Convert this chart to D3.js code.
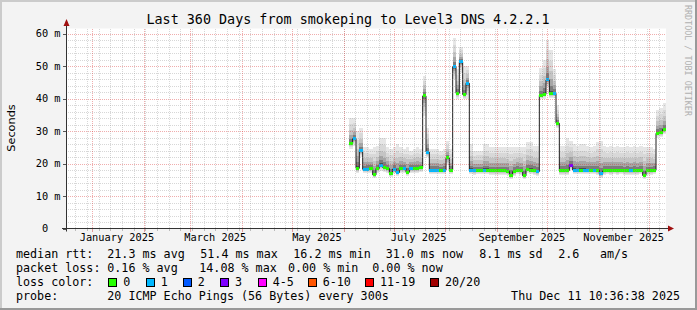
<!DOCTYPE html>
<html>
<head>
<meta charset="utf-8">
<script src="https://cdnjs.cloudflare.com/ajax/libs/d3/7.8.5/d3.min.js"></script>
<style>
html, body { margin: 0; padding: 0; background: #f3f3f3; }
svg { display: block; }
text { font-family: "DejaVu Sans Mono", monospace; fill: #000; }
</style>
</head>
<body>
<div id="chart"></div>
<script>
// ---- data ----
var title = "Last 360 Days from smokeping to Level3 DNS 4.2.2.1"
var startTime = new Date(Date.UTC(2024, 11, 16, 10, 36, 38))
var endTime = new Date(Date.UTC(2025, 11, 11, 10, 36, 38))
var firstSampleDay = 170
var sampleStepDays = 2

var medianMs = [
	26.2, 27.7, 18.5, 24.0, 18.2, 18.3, 18.5, 16.5, 18.5, 19.5,
	18.8, 18.5, 17.0, 18.3, 17.2, 18.5, 18.5, 17.3, 18.5, 18.5,
	18.5, 18.7, 40.8, 23.5, 18.0, 18.0, 18.0, 18.0, 18.0, 21.7,
	18.0, 49.8, 41.6, 51.3, 41.2, 44.7, 18.0, 17.8, 18.0, 18.0,
	18.0, 18.0, 17.8, 17.8, 17.8, 17.8, 17.8, 17.6, 16.4, 17.5,
	18.0, 17.8, 16.2, 18.2, 18.0, 17.8, 17.5, 41.0, 41.3, 45.7,
	41.5, 41.6, 32.4, 17.8, 17.8, 17.8, 19.5, 18.0, 18.0, 18.0,
	18.0, 18.0, 18.0, 18.0, 17.8, 16.8, 17.8, 18.0, 17.8, 18.0,
	17.8, 18.0, 17.8, 17.8, 17.8, 17.8, 17.8, 18.0, 16.3, 17.8,
	17.8, 18.0, 29.3, 29.5, 30.5]

var smokeTopMs = [
	34, 34, 30, 31, 25, 25, 24.5, 25, 25.5, 28,
	28, 25, 24.5, 25, 26, 25, 24.5, 25, 24, 24.5,
	25, 24.5, 47, 31, 24.5, 24.5, 24.5, 24, 24.5, 27,
	24.5, 58.6, 49, 56, 50, 50, 26, 24, 24, 24,
	26, 26, 25, 25, 25, 25, 25, 25, 25, 25,
	25, 25, 25, 26.5, 26.5, 25.5, 25.5, 49.4, 52, 58,
	55, 49, 38, 25.5, 25.5, 28, 27, 26, 25.5, 26,
	26, 25.5, 25, 25.5, 26.5, 27, 25.5, 25, 25.5, 25,
	25.5, 25, 25, 25.5, 25, 25.5, 25, 25.5, 25, 25,
	25, 24.5, 36.5, 37, 38.6]

var smokeLowMs = [
	24.5, 25.5, 17.0, 22.0, 17.0, 17.0, 17.2, 15.5, 17.2, 17.8,
	17.5, 17.2, 16.0, 17.0, 16.2, 17.2, 17.2, 16.3, 17.2, 17.2,
	17.2, 17.4, 34.5, 22.0, 16.8, 16.8, 16.8, 16.8, 16.8, 19.5,
	16.8, 46.0, 40.0, 48.0, 40.0, 40.0, 16.8, 16.6, 16.8, 16.8,
	16.8, 16.8, 16.6, 16.6, 16.6, 16.6, 16.6, 16.4, 15.3, 16.3,
	16.8, 16.6, 15.2, 17.0, 16.8, 16.6, 16.3, 39.8, 40.0, 43.5,
	40.2, 40.3, 31.0, 16.6, 16.6, 16.6, 18.0, 16.8, 16.8, 16.8,
	16.8, 16.8, 16.8, 16.8, 16.6, 15.6, 16.6, 16.8, 16.6, 16.8,
	16.6, 16.8, 16.6, 16.6, 16.6, 16.6, 16.6, 16.8, 15.2, 16.6,
	16.6, 16.8, 28.0, 28.2, 29.2]

var lostPings = [
	0, 1, 0, 1, 1, 1, 0, 0, 0, 1,
	0, 0, 0, 1, 1, 0, 1, 0, 1, 0,
	0, 0, 0, 1, 1, 1, 1, 0, 1, 0,
	0, 1, 0, 1, 0, 1, 1, 1, 0, 0,
	1, 0, 0, 0, 0, 0, 0, 0, 0, 0,
	0, 0, 0, 0, 0, 0, 1, 0, 0, 1,
	0, 1, 0, 0, 0, 0, 3, 1, 1, 0,
	1, 1, 0, 1, 0, 1, 0, 0, 0, 0,
	0, 0, 0, 0, 1, 0, 0, 0, 0, 0,
	0, 0, 0, 0, 0]

var yTicks = [0, 10, 20, 30, 40, 50, 60]
var yTickLabels = ["0  ", "10 m", "20 m", "30 m", "40 m", "50 m", "60 m"]
var monthLabels = ["January 2025", "March 2025", "May 2025", "July 2025", "September 2025", "November 2025"]
var monthLabelDates = ["2025-01-16", "2025-03-16", "2025-05-16", "2025-07-16", "2025-09-16", "2025-11-16"]

var lossLimits = [0, 1, 2, 3, 5, 10, 19, 20]
var lossLabels = ["0", "1", "2", "3", "4-5", "6-10", "11-19", "20/20"]
var lossColors = ["#26ff00", "#00b8ff", "#0059ff", "#7e00ff", "#ff00ff", "#ff5500", "#ff0000", "#a10000"]

var rttStats = ["21.3 ms avg", "51.4 ms max", "16.2 ms min", "31.0 ms now", "8.1 ms sd", "2.6", "am/s"]
var lossStats = ["0.16 % avg", "14.08 % max", "0.00 % min", "0.00 % now"]
var probeText = "20 ICMP Echo Pings (56 Bytes) every 300s"
var stampText = "Thu Dec 11 10:36:38 2025"

// ---- layout ----
var W = 697, H = 310
var plotLeft = 66, plotRight = 666, plotTop = 28.5, plotBottom = 228.5
var DAY = 86400000

var svg = d3.select("#chart").append("svg")
	.attr("width", W)
	.attr("height", H)

svg.append("rect").attr("width", W).attr("height", H).attr("fill", "#f3f3f3")
// rrdtool style shade border
svg.append("path").attr("d", `M1,${H} V1 H${W}`).attr("stroke", "#cbcbcb").attr("stroke-width", 2).attr("fill", "none")
svg.append("path").attr("d", `M0,${H-1} H${W-1} V0`).attr("stroke", "#999").attr("stroke-width", 2).attr("fill", "none")

var xScale = d3.scaleUtc().domain([startTime, endTime]).range([plotLeft, plotRight])
var yScale = d3.scaleLinear().domain([0, 61.54]).range([plotBottom, plotTop])

svg.append("rect")
	.attr("x", plotLeft).attr("y", plotTop)
	.attr("width", plotRight - plotLeft).attr("height", plotBottom - plotTop)
	.attr("fill", "#fff")

var samples = medianMs.map((m, i) => {
	var t0 = new Date(startTime.getTime() + (firstSampleDay + i * sampleStepDays) * DAY)
	var t1 = new Date(t0.getTime() + sampleStepDays * DAY)
	return { t0: t0, t1: t1, med: m, hi: smokeTopMs[i], lo: smokeLowMs[i], lost: lostPings[i] }
})

// smoke: light outer layers, darker towards the median
var smokeSpread = [1, 0.75, 0.52, 0.33, 0.17, 0.06]
var smokeShades = ["#e6e6e6", "#d8d8d8", "#c4c4c4", "#a6a6a6", "#7c7c7c", "#505050"]

var smokeGroup = svg.append("g").attr("shape-rendering", "crispEdges")
smokeSpread.forEach((f, k) => {
	smokeGroup.append("g").selectAll("rect")
		.data(samples)
		.enter()
		.append("rect")
		.attr("x", d => xScale(d.t0))
		.attr("width", d => xScale(d.t1) - xScale(d.t0))
		.attr("y", d => yScale(d.med + (d.hi - d.med) * f))
		.attr("height", d => yScale(d.med - (d.med - d.lo) * f) - yScale(d.med + (d.hi - d.med) * f))
		.attr("fill", smokeShades[k])
})

// median line
var linePts = samples.map(d => [xScale(d.t0), yScale(d.med)])
linePts.push([xScale(samples[samples.length - 1].t1), yScale(samples[samples.length - 1].med)])
svg.append("path")
	.attr("d", d3.line().curve(d3.curveStepAfter)(linePts))
	.attr("fill", "none")
	.attr("stroke", "#202020")
	.attr("stroke-width", 1)

function lossColor(n) {
	for (var i = 0; i < lossLimits.length; i++) {
		if (n <= lossLimits[i]) return lossColors[i]
	}
	return lossColors[lossColors.length - 1]
}

svg.append("g").attr("shape-rendering", "crispEdges")
	.selectAll("rect")
	.data(samples)
	.enter()
	.append("rect")
	.attr("x", d => xScale(d.t0))
	.attr("width", d => xScale(d.t1) - xScale(d.t0))
	.attr("y", d => yScale(d.med) - 1.5)
	.attr("height", 3)
	.attr("fill", d => lossColor(d.lost))

// grid on top, rrdtool style dotted lines
var minorColor = "rgba(140,140,140,0.35)"
var majorColor = "rgba(215,40,40,0.38)"
var grid = svg.append("g").attr("shape-rendering", "crispEdges")

var weeks = d3.utcSunday.range(startTime, endTime)
var months = d3.utcMonth.range(startTime, endTime)
var minorY = d3.range(2, 61.5, 2).filter(v => v % 10 != 0)

grid.selectAll(".vmin").data(weeks).enter().append("line")
	.attr("x1", d => Math.round(xScale(d)) + 0.5).attr("x2", d => Math.round(xScale(d)) + 0.5)
	.attr("y1", plotTop).attr("y2", plotBottom)
	.attr("stroke", minorColor).attr("stroke-dasharray", "1,1")
grid.selectAll(".hmin").data(minorY).enter().append("line")
	.attr("x1", plotLeft).attr("x2", plotRight)
	.attr("y1", d => Math.round(yScale(d)) + 0.5).attr("y2", d => Math.round(yScale(d)) + 0.5)
	.attr("stroke", minorColor).attr("stroke-dasharray", "1,1")
grid.selectAll(".vmaj").data(months).enter().append("line")
	.attr("x1", d => Math.round(xScale(d)) + 0.5).attr("x2", d => Math.round(xScale(d)) + 0.5)
	.attr("y1", plotTop).attr("y2", plotBottom)
	.attr("stroke", majorColor).attr("stroke-dasharray", "1,1")
grid.selectAll(".hmaj").data(yTicks.slice(1)).enter().append("line")
	.attr("x1", plotLeft).attr("x2", plotRight)
	.attr("y1", d => Math.round(yScale(d)) + 0.5).attr("y2", d => Math.round(yScale(d)) + 0.5)
	.attr("stroke", majorColor).attr("stroke-dasharray", "1,1")

// small ticks outside the canvas
grid.selectAll(".xt").data(weeks).enter().append("line")
	.attr("x1", d => Math.round(xScale(d)) + 0.5).attr("x2", d => Math.round(xScale(d)) + 0.5)
	.attr("y1", plotBottom).attr("y2", plotBottom + 2)
	.attr("stroke", "#bbb")
grid.selectAll(".xm").data(months).enter().append("line")
	.attr("x1", d => Math.round(xScale(d)) + 0.5).attr("x2", d => Math.round(xScale(d)) + 0.5)
	.attr("y1", plotBottom).attr("y2", plotBottom + 3)
	.attr("stroke", "#e29a9a")
grid.selectAll(".yt").data(yTicks).enter().append("line")
	.attr("x1", plotLeft - 3).attr("x2", plotLeft)
	.attr("y1", d => Math.round(yScale(d)) + 0.5).attr("y2", d => Math.round(yScale(d)) + 0.5)
	.attr("stroke", "#555")

// axes with arrows
var axisColor = "#333"
svg.append("line").attr("x1", plotLeft + 0.5).attr("x2", plotLeft + 0.5).attr("y1", plotBottom + 3).attr("y2", 24)
	.attr("stroke", axisColor)
svg.append("line").attr("x1", plotLeft - 4).attr("x2", plotRight + 3).attr("y1", plotBottom).attr("y2", plotBottom)
	.attr("stroke", axisColor)
svg.append("path").attr("d", `M${plotLeft + 0.5},19 L${plotLeft - 2.5},26 L${plotLeft + 3.5},26 Z`).attr("fill", "#a01010")
svg.append("path").attr("d", `M${plotRight + 8},${plotBottom} L${plotRight + 2},${plotBottom - 3} L${plotRight + 2},${plotBottom + 3} Z`).attr("fill", "#a01010")

// y tick labels
svg.append("g").selectAll("text")
	.data(yTicks)
	.enter()
	.append("text")
	.attr("x", 60.5)
	.attr("y", d => yScale(d))
	.attr("dy", "0.36em")
	.attr("text-anchor", "end")
	.style("white-space", "pre")
	.style("font-size", "10.3px")
	.text((d, i) => yTickLabels[i])

// x labels
svg.append("g").selectAll("text")
	.data(monthLabelDates)
	.enter()
	.append("text")
	.attr("x", d => xScale(new Date(d + "T00:00:00Z")))
	.attr("y", 241)
	.attr("text-anchor", "middle")
	.style("font-size", "10.3px")
	.text((d, i) => monthLabels[i])

// title
svg.append("text")
	.attr("x", 348).attr("y", 24)
	.attr("text-anchor", "middle")
	.style("font-size", "13.4px")
	.text(title)

// vertical unit label
svg.append("text")
	.attr("transform", "translate(15,128) rotate(-90)")
	.attr("text-anchor", "middle")
	.style("font-family", "'DejaVu Sans', sans-serif")
	.style("font-size", "11.3px")
	.text("Seconds")

// watermark
svg.append("text")
	.attr("transform", "translate(685,5) rotate(90)")
	.style("font-size", "8.4px")
	.style("fill", "#b0b0b0")
	.text("RRDTOOL / TOBI OETIKER")

// legend
var lf = "11.7px"
var legend = svg.append("g").style("font-size", lf).style("white-space", "pre")
var rowY = [258.3, 272.3, 286.3, 300.3]
legend.append("text").attr("x", 16).attr("y", rowY[0]).text("median rtt:")
legend.append("text").attr("x", 16).attr("y", rowY[1]).text("packet loss:")
legend.append("text").attr("x", 16).attr("y", rowY[2]).text("loss color:")
legend.append("text").attr("x", 16).attr("y", rowY[3]).text("probe:")

var rttX = [107.3, 200.3, 293.3, 385.7, 479.3, 558.3, 600]
legend.selectAll(".rtt").data(rttStats).enter().append("text")
	.attr("x", (d, i) => rttX[i]).attr("y", rowY[0]).text(d => d)
var lossX = [107.3, 199.3, 288, 372.3]
legend.selectAll(".loss").data(lossStats).enter().append("text")
	.attr("x", (d, i) => lossX[i]).attr("y", rowY[1]).text(d => d)

var boxX = [108.3, 145.7, 182.7, 220, 257.7, 307.7, 365, 430]
legend.selectAll(".lbox").data(lossColors).enter().append("rect")
	.attr("x", (d, i) => Math.round(boxX[i]) + 0.5).attr("y", 278.5)
	.attr("width", 8).attr("height", 8)
	.attr("fill", d => d).attr("stroke", "#000")
legend.selectAll(".ltxt").data(lossLabels).enter().append("text")
	.attr("x", (d, i) => boxX[i] + 15).attr("y", rowY[2]).text(d => d)

legend.append("text").attr("x", 107.3).attr("y", rowY[3]).text(probeText)
legend.append("text").attr("x", 680).attr("y", rowY[3]).attr("text-anchor", "end").text(stampText)
</script>
</body>
</html>
